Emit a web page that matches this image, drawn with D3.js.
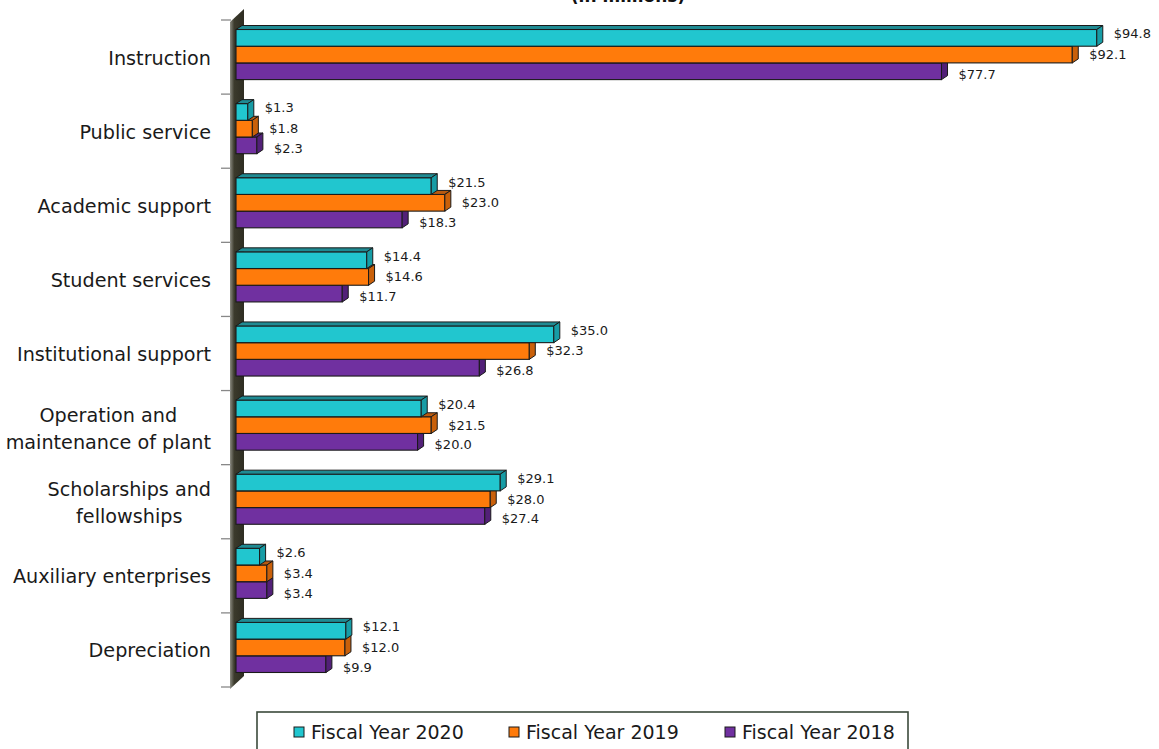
<!DOCTYPE html>
<html>
<head>
<meta charset="utf-8">
<script src="https://cdn.jsdelivr.net/npm/d3@7/dist/d3.min.js"></script>
<style>
  html, body { margin: 0; padding: 0; background: #fff; }
  svg { display: block; }
</style>
</head>
<body>
<svg id="chart" width="1159" height="749"></svg>
<script>
const categories = [
  ["Instruction"],
  ["Public service"],
  ["Academic support"],
  ["Student services"],
  ["Institutional support"],
  ["Operation and", "maintenance of plant"],
  ["Scholarships and", "fellowships"],
  ["Auxiliary enterprises"],
  ["Depreciation"]
];
const seriesNames = ["Fiscal Year 2020", "Fiscal Year 2019", "Fiscal Year 2018"];
const fy2020 = [94.8, 1.3, 21.5, 14.4, 35.0, 20.4, 29.1, 2.6, 12.1];
const fy2019 = [92.1, 1.8, 23.0, 14.6, 32.3, 21.5, 28.0, 3.4, 12.0];
const fy2018 = [77.7, 2.3, 18.3, 11.7, 26.8, 20.0, 27.4, 3.4, 9.9];
const series = [fy2020, fy2019, fy2018];
const titleText = "(in millions)";

const colors = [
  { front: "#21C6CF", top: "#1f8b93", side: "#179ca5" },
  { front: "#FF7B0B", top: "#b85a10", side: "#c9600a" },
  { front: "#7030A0", top: "#4f2175", side: "#522078" }
];

const svg = d3.select("#chart");
const FONT = "'DejaVu Sans', sans-serif";

const x = d3.scaleLinear().domain([0, 100]).range([236, 1144]);
const y = d3.scaleBand().domain(d3.range(categories.length)).range([20, 687]).paddingInner(0).paddingOuter(0);
const barH = 16.7, dx = 6, dy = 4, groupOffset = 9.5;

// title (partly cut at the top, as in the reference)
svg.append("text")
  .attr("x", 628).attr("y", 2)
  .attr("text-anchor", "middle")
  .attr("font-family", FONT).attr("font-weight", "bold")
  .attr("font-size", 17).attr("fill", "#111")
  .text(titleText);

// axis wall
const defs = svg.append("defs");
const grad = defs.append("linearGradient").attr("id", "wallGrad").attr("x1", "0").attr("x2", "1").attr("y1", "0").attr("y2", "0");
grad.append("stop").attr("offset", "0").attr("stop-color", "#8a8a80");
grad.append("stop").attr("offset", "0.3").attr("stop-color", "#3b3a2c");
grad.append("stop").attr("offset", "1").attr("stop-color", "#2e2d22");
const yTop = y.range()[0], yBot = y.range()[1];
svg.append("polygon")
  .attr("points", [[230, yTop + 2], [244, yTop - 11], [244, yBot - 11], [230, yBot + 2]].map(p => p.join(",")).join(" "))
  .attr("fill", "url(#wallGrad)");

// ticks
const tickYs = d3.range(categories.length + 1).map(i => yTop + i * y.bandwidth());
svg.selectAll("line.tick").data(tickYs).enter().append("line")
  .attr("x1", 221).attr("x2", 231)
  .attr("y1", d => d).attr("y2", d => d)
  .attr("stroke", "#888").attr("stroke-width", 1.3);

// bars
const x0 = x(0);
categories.forEach((cat, ci) => {
  const g = svg.append("g");
  for (let si = series.length - 1; si >= 0; si--) {
    const v = series[si][ci];
    const yy = y(ci) + groupOffset + si * barH;
    const x1 = x(v);
    const c = colors[si];
    g.append("rect")
      .attr("x", x0).attr("y", yy).attr("width", x1 - x0).attr("height", barH)
      .attr("fill", c.front).attr("stroke", "#1a1a1a").attr("stroke-width", 1.1);
    g.append("polygon")
      .attr("points", [[x0, yy], [x0 + dx, yy - dy], [x1 + dx, yy - dy], [x1, yy]].map(p => p.join(",")).join(" "))
      .attr("fill", c.top).attr("stroke", "#1a1a1a").attr("stroke-width", 1).attr("stroke-linejoin", "round");
    g.append("polygon")
      .attr("points", [[x1, yy], [x1 + dx, yy - dy], [x1 + dx, yy + barH - dy], [x1, yy + barH]].map(p => p.join(",")).join(" "))
      .attr("fill", c.side).attr("stroke", "#1a1a1a").attr("stroke-width", 1).attr("stroke-linejoin", "round");
  }
});

// value labels
const labelDy = [-4, 0, 3];
categories.forEach((cat, ci) => {
  series.forEach((s, si) => {
    const v = s[ci];
    const yy = y(ci) + groupOffset + si * barH + barH / 2 + labelDy[si];
    svg.append("text")
      .attr("x", x(v) + 17).attr("y", yy)
      .attr("dominant-baseline", "central")
      .attr("font-family", FONT).attr("font-size", 13).attr("fill", "#1a1a1a")
      .text("$" + v.toFixed(1));
  });
});

// category labels
const catSize = 19.2, lineH = 27, rightEdge = 211;
categories.forEach((lines, ci) => {
  const cy = y(ci) + y.bandwidth() / 2 + 1;
  if (lines.length === 1) {
    svg.append("text")
      .attr("x", rightEdge).attr("y", cy)
      .attr("text-anchor", "end").attr("dominant-baseline", "central")
      .attr("font-family", FONT).attr("font-size", catSize).attr("fill", "#1a1a1a")
      .text(lines[0]);
  } else {
    const t = svg.append("text")
      .attr("text-anchor", "middle")
      .attr("font-family", FONT).attr("font-size", catSize).attr("fill", "#1a1a1a");
    const spans = lines.map((ln, li) => t.append("tspan")
      .attr("y", cy + (li - (lines.length - 1) / 2) * lineH)
      .attr("dominant-baseline", "central")
      .text(ln));
    const maxW = d3.max(spans, sp => sp.node().getComputedTextLength());
    spans.forEach(sp => sp.attr("x", rightEdge - maxW / 2));
  }
});

// legend
const legend = svg.append("g");
legend.append("rect")
  .attr("x", 257).attr("y", 712).attr("width", 651).attr("height", 40)
  .attr("fill", "#fff").attr("stroke", "#3b4a3b").attr("stroke-width", 1.6);
const legX = [294, 509, 725];
seriesNames.forEach((name, i) => {
  legend.append("rect")
    .attr("x", legX[i]).attr("y", 727).attr("width", 10).attr("height", 10)
    .attr("fill", colors[i].front).attr("stroke", "#1a1a1a").attr("stroke-width", 1);
  legend.append("text")
    .attr("x", legX[i] + 17).attr("y", 732)
    .attr("dominant-baseline", "central")
    .attr("font-family", FONT).attr("font-size", 19).attr("fill", "#1a1a1a")
    .text(name);
});
</script>
</body>
</html>
